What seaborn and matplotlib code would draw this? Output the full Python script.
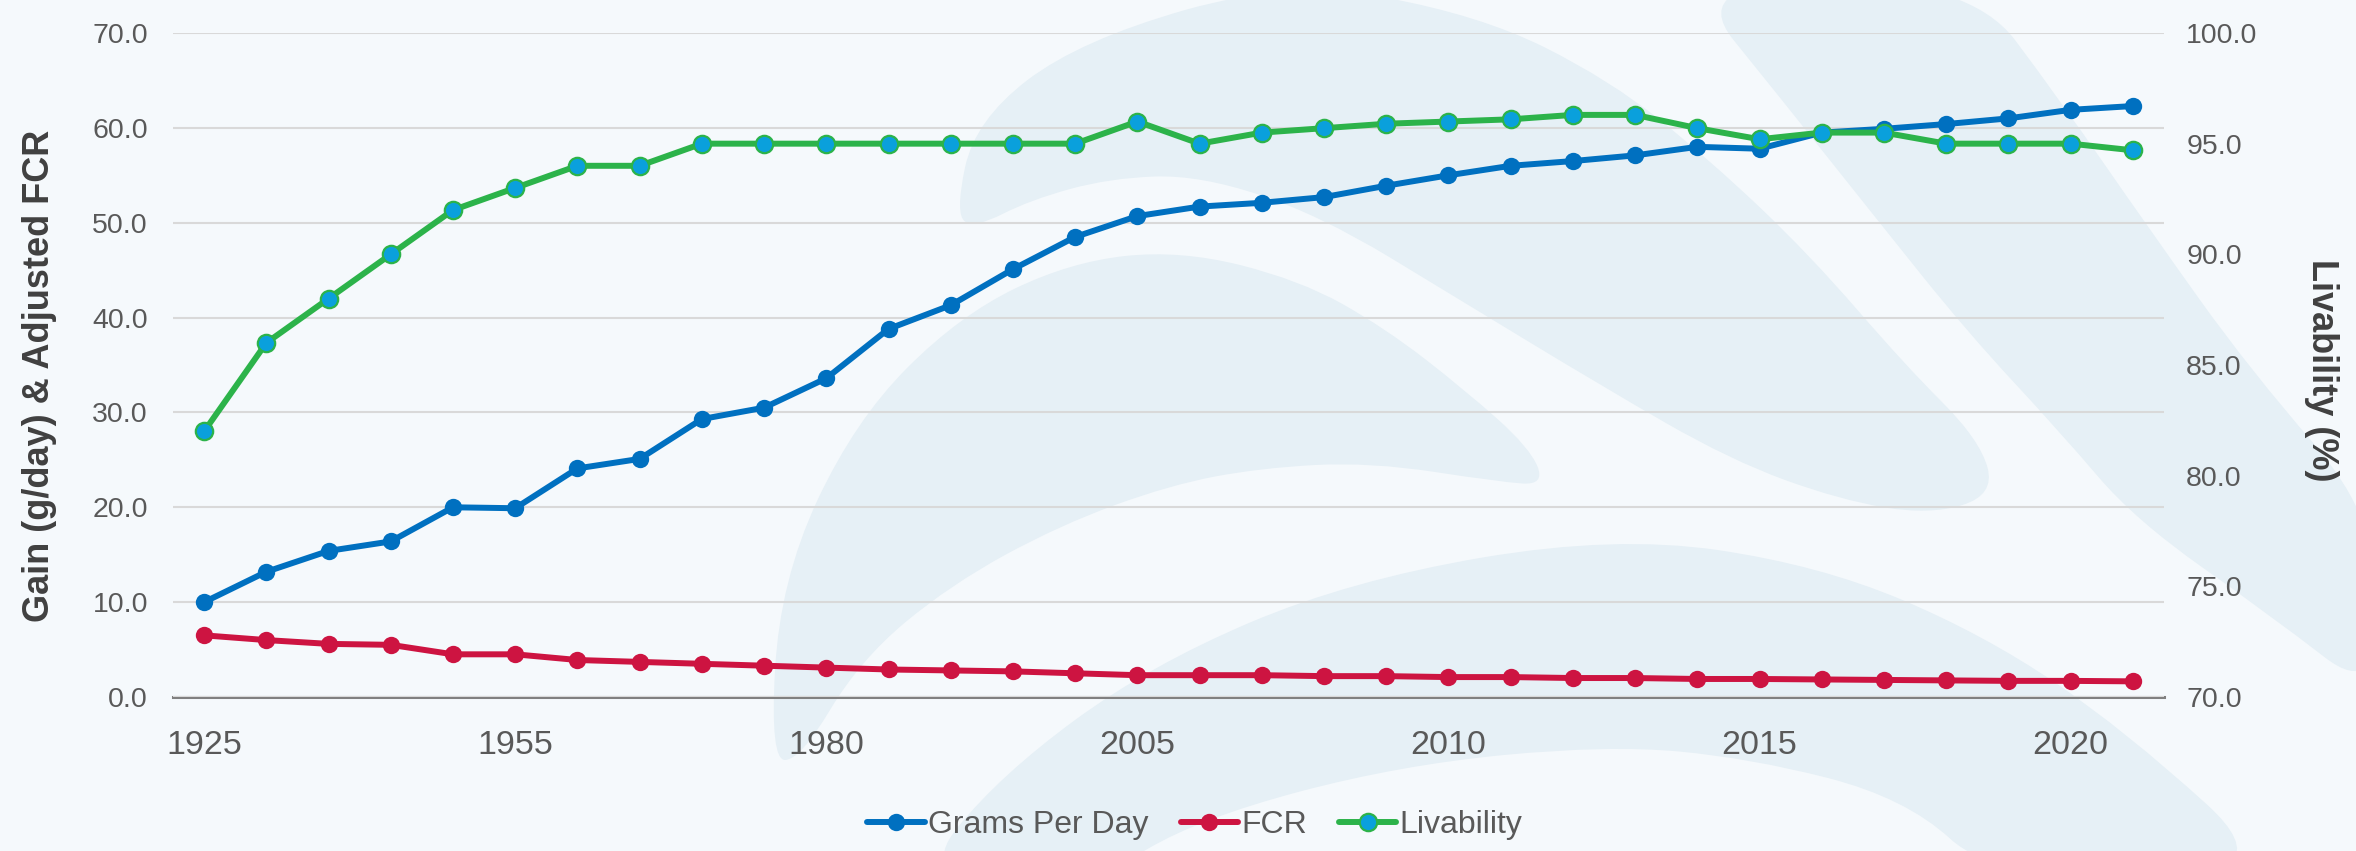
import numpy as np
import pandas as pd
import seaborn as sns
import matplotlib.pyplot as plt
from matplotlib.path import Path
from matplotlib.patches import PathPatch

# datos
years = ["1925", "1935", "1940", "1945", "1950", "1955", "1960", "1965",
         "1970", "1975", "1980", "1985", "1990", "1995", "2000", "2005",
         "2006", "2007", "2008", "2009", "2010", "2011", "2012", "2013",
         "2014", "2015", "2016", "2017", "2018", "2019", "2020", "2021"]
grams_per_day = [10.0, 13.2, 15.4, 16.4, 20.0, 19.9, 24.1, 25.1, 29.3, 30.5,
                 33.6, 38.8, 41.3, 45.1, 48.5, 50.7, 51.7, 52.1, 52.7, 53.9,
                 55.0, 56.0, 56.5, 57.1, 58.0, 57.8, 59.5, 59.9, 60.4, 61.0,
                 61.9, 62.3]
fcr = [6.5, 6.0, 5.6, 5.5, 4.5, 4.5, 3.9, 3.7, 3.5, 3.3, 3.1, 2.9, 2.8, 2.7,
       2.5, 2.3, 2.3, 2.3, 2.2, 2.2, 2.1, 2.1, 2.0, 2.0, 1.9, 1.9, 1.85, 1.8,
       1.75, 1.7, 1.7, 1.65]
livability = [82.0, 86.0, 88.0, 90.0, 92.0, 93.0, 94.0, 94.0, 95.0, 95.0,
              95.0, 95.0, 95.0, 95.0, 95.0, 96.0, 95.0, 95.5, 95.7, 95.9,
              96.0, 96.1, 96.3, 96.3, 95.7, 95.2, 95.5, 95.5, 95.0, 95.0,
              95.0, 94.7]
shown_years = ["1925", "1955", "1980", "2005", "2010", "2015", "2020"]
left_ticks = [0, 10, 20, 30, 40, 50, 60, 70]
right_ticks = [70, 75, 80, 85, 90, 95, 100]

df = pd.DataFrame({"year": years, "gpd": grams_per_day,
                   "fcr": fcr, "liv": livability})

BG = "#f5f9fc"
LIGHT = "#e6f0f6"
BLUE = "#0070c0"
RED = "#cd1441"
GREEN = "#2cb34a"
CYAN = "#0aa0dc"
TXT = "#595959"

sns.set_theme(style="white")
plt.rcParams["font.family"] = ["Liberation Sans", "DejaVu Sans"]

W, H = 2356, 851
fig = plt.figure(figsize=(W / 100, H / 100), dpi=100, facecolor=BG)


# formas decorativas del fondo (coordenadas en pixeles)
def blob(pts):
    p = np.array(pts, float)
    p[:, 0] = p[:, 0] / W
    p[:, 1] = 1 - p[:, 1] / H
    mids = (p + np.roll(p, -1, axis=0)) / 2
    verts = [mids[-1]]
    codes = [Path.MOVETO]
    for i in range(len(p)):
        verts += [p[i], mids[i]]
        codes += [Path.CURVE3, Path.CURVE3]
    verts.append(mids[-1])
    codes.append(Path.CLOSEPOLY)
    patch = PathPatch(Path(verts, codes), transform=fig.transFigure,
                      fc=LIGHT, ec="none", zorder=-10)
    fig.add_artist(patch)


blob([(955, 215), (975, 120), (1080, 40), (1290, -20), (1480, 15),
      (1610, 80), (1710, 160), (1810, 255), (1905, 365), (1980, 440),
      (1995, 495), (1930, 515), (1840, 500), (1730, 460), (1600, 385),
      (1460, 300), (1320, 215), (1200, 175), (1110, 178), (1030, 200),
      (975, 228)])
blob([(770, 760), (780, 580), (855, 420), (960, 315), (1070, 262),
      (1180, 250), (1300, 280), (1385, 328), (1465, 390), (1530, 448),
      (1545, 485), (1500, 482), (1370, 462), (1260, 468), (1170, 485),
      (1060, 525), (950, 585), (860, 660), (800, 760)])
blob([(915, 880), (1000, 775), (1150, 665), (1350, 580), (1615, 535),
      (1820, 565), (1985, 635), (2125, 730), (2290, 880), (1995, 880),
      (1906, 798), (1750, 758), (1608, 745), (1400, 765), (1200, 818),
      (1095, 880)])
blob([(1685, -20), (1970, -20), (2060, 100), (2150, 230), (2250, 370),
      (2380, 520), (2380, 700), (2270, 615), (2135, 520), (2061, 433),
      (1968, 333), (1875, 217), (1782, 100)])

ax = fig.add_axes([173 / W, 1 - 697 / H, (2164 - 173) / W, (697 - 33) / H])
ax.set_facecolor("none")
ax2 = ax.twinx()

line_kw = dict(linewidth=4.3, markersize=12.5, markeredgewidth=0)
sns.pointplot(data=df, x="year", y="gpd", ax=ax, color=BLUE, errorbar=None,
              label="Grams Per Day", **line_kw)
sns.pointplot(data=df, x="year", y="fcr", ax=ax, color=RED, errorbar=None,
              label="FCR", **line_kw)
sns.pointplot(data=df, x="year", y="liv", ax=ax2, color=GREEN, errorbar=None,
              label="Livability", linewidth=4.3, markersize=12.5,
              markerfacecolor=CYAN, markeredgecolor=GREEN,
              markeredgewidth=1.6)

ax.set_ylim(0, 70)
ax2.set_ylim(70, 100)
ax.set_xlim(-0.5, len(years) - 0.5)

# eje x: etiquetas cada 5 categorias, marcas en los limites
ax.set_xticks([years.index(y) for y in shown_years])
ax.set_xticklabels(shown_years)
ax.set_xticks(np.arange(-0.5, len(years), 1), minor=True)
ax.tick_params(axis="x", which="major", length=0, pad=24, labelsize=24.5,
               labelcolor=TXT)
ax.tick_params(axis="x", which="minor", direction="inout", length=16,
               width=2.2, color="#808080")

ax.set_yticks(left_ticks)
ax.set_yticklabels([f"{v:.1f}" for v in left_ticks])
ax.tick_params(axis="y", length=0, pad=18, labelsize=20.5, labelcolor=TXT)
ax2.set_yticks(right_ticks)
ax2.set_yticklabels([f"{v:.1f}" for v in right_ticks])
ax2.tick_params(axis="y", length=0, pad=16, labelsize=20.5, labelcolor=TXT)

ax.yaxis.grid(True, color="#d9d9d9", linewidth=1.5)
ax.xaxis.grid(False)
ax.set_axisbelow(True)
for a in (ax, ax2):
    for s in ["top", "left", "right", "bottom"]:
        a.spines[s].set_visible(False)
    a.set_xlabel("")
    a.set_ylabel("")
ax.spines["bottom"].set_visible(True)
ax.spines["bottom"].set_color("#808080")
ax.spines["bottom"].set_linewidth(2.2)
ax.spines["bottom"].set_zorder(0.5)

fig.text(40 / W, 1 - 376 / H, "Gain (g/day) & Adjusted FCR", rotation=90,
         ha="center", va="center", fontsize=26, fontweight="bold",
         color="#404040")
fig.text(2322 / W, 1 - 370 / H, "Livability (%)", rotation=270,
         ha="center", va="center", fontsize=26, fontweight="bold",
         color="#404040")

h1, l1 = ax.get_legend_handles_labels()
h2, l2 = ax2.get_legend_handles_labels()
for a in (ax, ax2):
    if a.get_legend() is not None:
        a.get_legend().remove()
leg = fig.legend(h1 + h2, l1 + l2, loc="center",
                 bbox_to_anchor=(1195 / W, 1 - 825 / H), ncol=3,
                 frameon=False, fontsize=23, handlelength=1.8,
                 handletextpad=0.1, columnspacing=1.0)
for t in leg.get_texts():
    t.set_color(TXT)

fig.savefig("out.png", dpi=100, facecolor=BG)
